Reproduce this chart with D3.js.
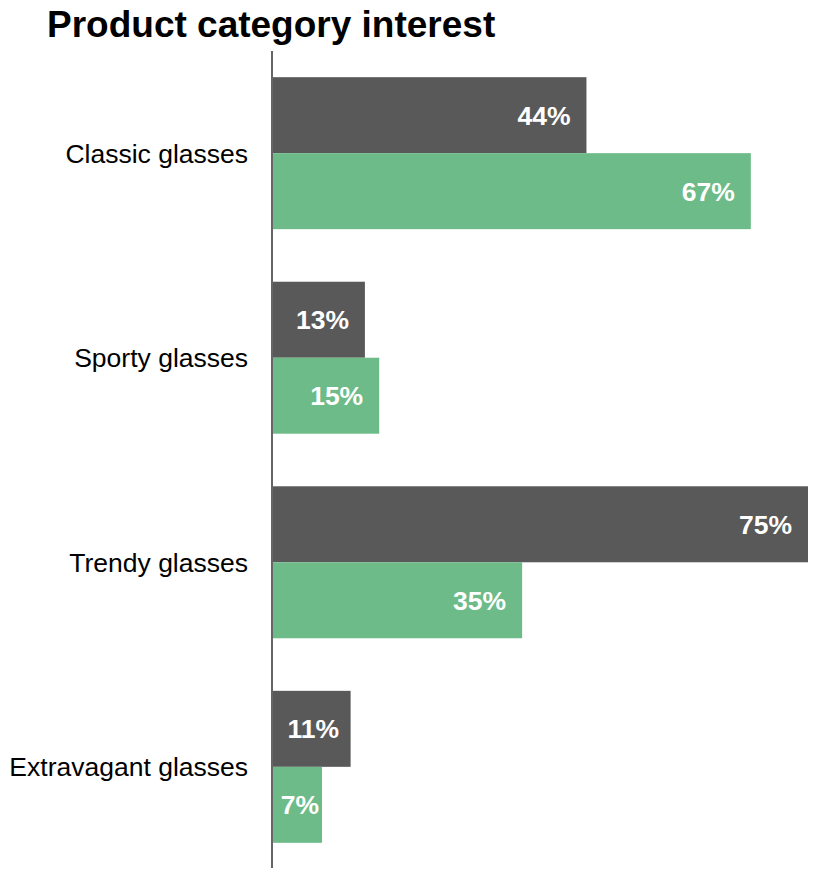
<!DOCTYPE html>
<html>
<head>
<meta charset="utf-8">
<script src="https://cdn.jsdelivr.net/npm/d3@7"></script>
<style>
  html, body { margin: 0; padding: 0; background: #fff; }
  svg { display: block; font-family: "Liberation Sans", Arial, sans-serif; }
</style>
</head>
<body>
<svg id="chart" width="813" height="872"></svg>
<script>
// Share of respondents interested in each product category, two groups
const categories = ["Classic glasses", "Sporty glasses", "Trendy glasses", "Extravagant glasses"];
const seriesNames = ["Group A", "Group B"];
const groupA = [44, 13, 75, 11];
const groupB = [67, 15, 35, 7];
const seriesColors = ["#595959", "#6dbb88"];

const W = 813, H = 872;
const svg = d3.select("#chart");

const rows = categories.map((c, i) => ({
  category: c,
  values: [
    { series: seriesNames[0], value: groupA[i] },
    { series: seriesNames[1], value: groupB[i] }
  ]
}));

const x = d3.scaleLinear()
  .domain([0, d3.max([...groupA, ...groupB])])
  .range([272, 808]);

const y = d3.scaleBand()
  .domain(categories)
  .range([51, 869])
  .paddingInner(0.257)
  .paddingOuter(0.128);

const ySub = d3.scaleBand()
  .domain(seriesNames)
  .range([0, y.bandwidth()]);

const color = d3.scaleOrdinal().domain(seriesNames).range(seriesColors);

// Title
svg.append("text")
  .attr("x", 47)
  .attr("y", 37)
  .attr("font-size", 37)
  .attr("font-weight", "bold")
  .attr("fill", "#000")
  .text("Product category interest");

// Bars and value labels
const groups = svg.append("g").selectAll("g")
  .data(rows)
  .join("g")
  .attr("transform", d => `translate(0,${y(d.category)})`);

groups.selectAll("rect")
  .data(d => d.values)
  .join("rect")
  .attr("x", x(0))
  .attr("y", d => ySub(d.series))
  .attr("width", d => x(d.value) - x(0))
  .attr("height", ySub.bandwidth())
  .attr("fill", d => color(d.series));

// Labels sit inside the bar end; shorter bars pull the label closer to the end
groups.selectAll("text")
  .data(d => d.values)
  .join("text")
  .attr("x", d => {
    const w = x(d.value) - x(0);
    const gap = Math.max(3, Math.min(16, (w - 40) * 0.3));
    return x(d.value) - gap;
  })
  .attr("y", d => ySub(d.series) + ySub.bandwidth() / 2)
  .attr("dy", "0.36em")
  .attr("text-anchor", "end")
  .attr("font-size", 26.5)
  .attr("font-weight", "bold")
  .attr("fill", "#fff")
  .text(d => d.value + "%");

// Category axis
const yAxis = d3.axisLeft(y).tickSize(0).tickPadding(24);
const ax = svg.append("g")
  .attr("transform", `translate(${x(0)},0)`)
  .call(yAxis);
ax.select(".domain")
  .attr("d", `M0,51V868`)
  .attr("stroke", "#666")
  .attr("stroke-width", 2);
ax.selectAll(".tick text")
  .attr("font-size", 26.5)
  .attr("font-family", "\"Liberation Sans\", Arial, sans-serif")
  .attr("fill", "#000")
  .attr("dy", "0.36em");
</script>
</body>
</html>
